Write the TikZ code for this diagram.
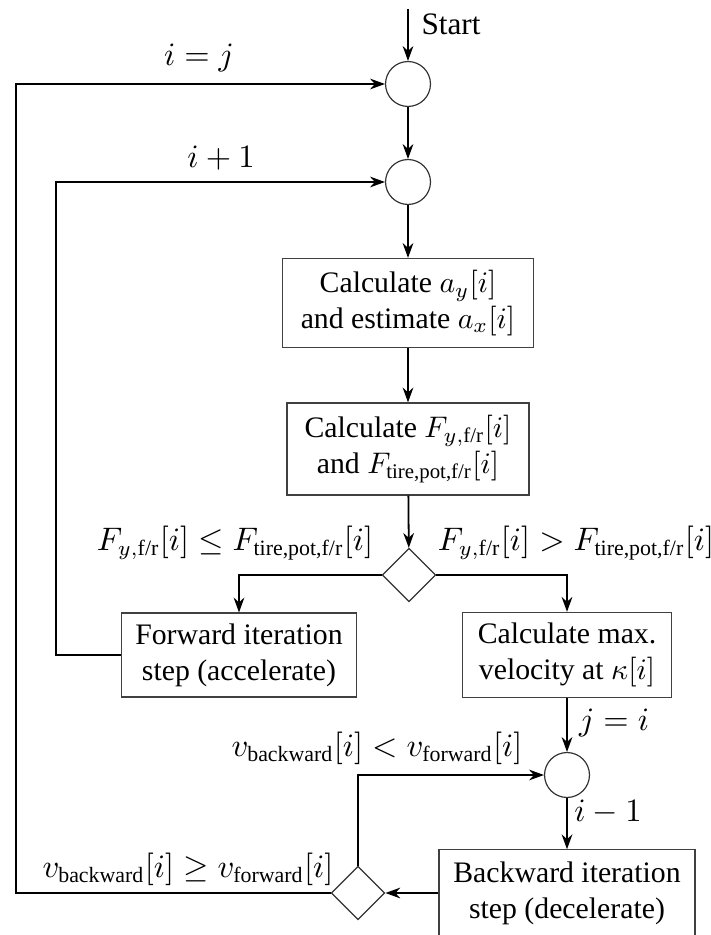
\documentclass[tikz,border=0pt]{standalone}
\usepackage{amsmath,amssymb}
\usepackage{fontspec}
\setmainfont{Liberation Serif}
\usetikzlibrary{positioning}
\usetikzlibrary{shapes.geometric}
\usetikzlibrary{arrows.meta}

\begin{document}
\begin{tikzpicture}[x=0.01181cm,y=-0.01181cm,
proc/.style={rectangle,draw=black!75,thin,fill=white,align=center,inner sep=1pt,font=\fontsize{10}{12}\selectfont},
junc/.style={circle,draw=black!80,thin,minimum size=15.1pt,inner sep=0pt},
decide/.style={diamond,draw=black!80,thin,aspect=1,minimum size=18pt,inner sep=0pt},
lbl/.style={inner sep=1pt,font=\fontsize{10.5}{12}\selectfont},
arr/.style={-{Stealth[length=5pt,width=3.6pt]},semithick}]
\useasboundingbox (0,0) rectangle (711,935);

\coordinate (start) at (408,9);
\node [lbl] (startlbl) at (451,24) {Start};

\node [junc] (join1) at (408,84) {};
\node [junc] (join2) at (408,182) {};
\node [proc,minimum width=84.3pt,minimum height=29.9pt] (accel) at (408,303) {Calculate $a_y[i]$\\and estimate $a_x[i]$};
\node [proc,minimum width=81.3pt,minimum height=30.9pt] (force) at (408,449) {Calculate $F_{y,\text{f/r}}[i]$\\and $F_{\text{tire,pot,f/r}}[i]$};
\node [decide] (dec1) at (409,575) {};

\node [proc,minimum width=79pt,minimum height=28.2pt] (fwd) at (239,655) {Forward iteration\\step (accelerate)};
\node [proc,minimum width=70.2pt,minimum height=28.6pt] (maxv) at (567,655) {Calculate max.\\velocity at $\kappa[i]$};

\node [junc] (join3) at (567,775) {};
\node [proc,minimum width=86pt,minimum height=29pt] (bwd) at (567,893) {Backward iteration\\step (decelerate)};
\node [decide] (dec2) at (358,893) {};

% left return lines
\coordinate (lineA) at (16,0);
\coordinate (lineB) at (56,0);

% labels
\node [lbl] (lij) at (199,58) {$i=j$};
\node [lbl] (lip) at (221,158) {$i+1$};
\node [lbl] (lle) at (235,543) {$F_{y,\text{f/r}}[i]\leq F_{\text{tire,pot,f/r}}[i]$};
\node [lbl] (lgt) at (576,543) {$F_{y,\text{f/r}}[i]>F_{\text{tire,pot,f/r}}[i]$};
\node [lbl] (lji) at (614,723) {$j=i$};
\node [lbl] (lim) at (608,812) {$i-1$};
\node [lbl] (llt) at (377,748) {$v_{\text{backward}}[i]<v_{\text{forward}}[i]$};
\node [lbl] (lge) at (188,869) {$v_{\text{backward}}[i]\geq v_{\text{forward}}[i]$};

\draw [arr] (start)--(join1);
\draw [arr] (join1)--(join2);
\draw [arr] (join2)--(accel);
\draw [arr] (accel)--(force);
\draw [arr] (force)--(dec1);
\draw [arr] (dec1.west) -| (fwd.north);
\draw [arr] (dec1.east) -| (maxv.north);
\draw [arr] (fwd.west) -- (fwd.west -| lineB) |- (join2.west);
\draw [arr] (maxv)--(join3);
\draw [arr] (join3)--(bwd);
\draw [arr] (bwd.west)--(dec2.east);
\draw [arr] (dec2.north) |- (join3.west);
\draw [arr] (dec2.west) -- (dec2.west -| lineA) |- (join1.west);
\end{tikzpicture}
\end{document}
